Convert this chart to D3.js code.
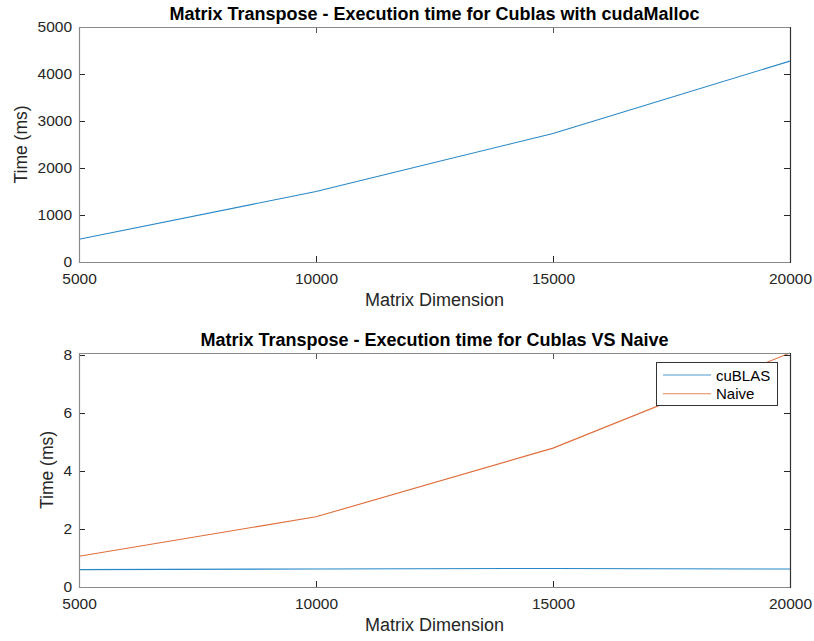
<!DOCTYPE html>
<html>
<head>
<meta charset="utf-8">
<script src="https://cdn.jsdelivr.net/npm/d3@7"></script>
<style>
  html, body { margin: 0; padding: 0; background: #fff; }
  svg { display: block; font-family: "Liberation Sans", Arial, Helvetica, sans-serif; }
</style>
</head>
<body>
<svg id="fig" width="814" height="641"></svg>
<script>
// Matrix sizes measured
const dims = [5000, 10000, 15000, 20000];

// Upper panel: cuBLAS with cudaMalloc (ms)
const cudaMallocTimes = [483, 1500, 2734, 4275];

// Lower panel: cuBLAS vs naive kernel (ms)
const cublasTimes = [0.60, 0.62, 0.64, 0.62];
const naiveTimes = [1.06, 2.42, 4.79, 8.07];

const xTicks = [5000, 10000, 15000, 20000];
const yTicksTop = [0, 1000, 2000, 3000, 4000, 5000];
const yTicksBottom = [0, 2, 4, 6, 8];

const titles = [
  "Matrix Transpose - Execution time for Cublas with cudaMalloc",
  "Matrix Transpose - Execution time for Cublas VS Naive"
];
const legendNames = ["cuBLAS", "Naive"];

const BLUE = "#0072BD", ORANGE = "#D95319";
const svg = d3.select("#fig");

function panel(opts) {
  const { top, bottom, left, right, yMax, yTicks, series, title, ylabelX, legend } = opts;
  const x = d3.scaleLinear().domain([5000, 20000]).range([left, right]);
  const y = d3.scaleLinear().domain([0, yMax]).range([bottom, top]);
  const g = svg.append("g");

  // clip lines to the axes box
  const clipId = "clip" + Math.round(top);
  svg.append("clipPath").attr("id", clipId)
    .append("rect").attr("x", left).attr("y", top - 1)
    .attr("width", right - left).attr("height", bottom - top + 1);

  // series
  const line = d3.line().x((d, i) => x(dims[i])).y(d => y(d));
  series.forEach(s => {
    g.append("path").datum(s.values)
      .attr("clip-path", `url(#${clipId})`)
      .attr("d", line).attr("fill", "none")
      .attr("stroke", s.color).attr("stroke-width", 1.1).attr("stroke-opacity", 0.85);
  });

  // axes through d3 axis generators (tick labels only; box drawn below)
  const fmt = d3.format("d");
  const xAxis = g.append("g").attr("transform", `translate(0,${bottom})`)
    .call(d3.axisBottom(x).tickValues(xTicks).tickFormat(fmt).tickSize(-6).tickPadding(11));
  const yAxis = g.append("g").attr("transform", `translate(${left},0)`)
    .call(d3.axisLeft(y).tickValues(yTicks).tickFormat(fmt).tickSize(-6).tickPadding(7));
  [xAxis, yAxis].forEach(a => {
    a.select(".domain").remove();
    a.selectAll(".tick line").attr("stroke", "#262626");
    a.selectAll(".tick text").attr("fill", "#262626")
      .style("font-size", "15.5px").style("font-family", "Liberation Sans, Arial, sans-serif");
  });
  xAxis.selectAll(".tick text").attr("dy", "0.71em");
  // mirrored ticks on top and right
  g.append("g").attr("transform", `translate(0,${top})`)
    .call(d3.axisTop(x).tickValues(xTicks).tickFormat("").tickSize(-6))
    .call(a => { a.select(".domain").remove(); a.selectAll(".tick line").attr("stroke", "#555"); });
  g.append("g").attr("transform", `translate(${right},0)`)
    .call(d3.axisRight(y).tickValues(yTicks).tickFormat("").tickSize(-6))
    .call(a => { a.select(".domain").remove(); a.selectAll(".tick line").attr("stroke", "#262626"); });

  // axes box
  g.append("path").attr("d", `M${right},${top + 0.5}H${left + 0.5}V${bottom + 0.5}H${right}`)
    .attr("fill", "none").attr("stroke", "#8a8a8a").attr("stroke-width", 1.2);
  g.append("line").attr("x1", right + 0.5).attr("x2", right + 0.5)
    .attr("y1", top).attr("y2", bottom + 1)
    .attr("stroke", "#333").attr("stroke-width", 1.2);

  // title
  g.append("text").attr("x", (left + right) / 2).attr("y", top - 13)
    .attr("text-anchor", "middle").attr("dominant-baseline", "central")
    .style("font-size", "18px").style("font-weight", "bold").attr("fill", "#000")
    .text(title);

  // axis labels
  g.append("text").attr("x", (left + right) / 2).attr("y", bottom + 38)
    .attr("text-anchor", "middle").attr("dominant-baseline", "central")
    .style("font-size", "18px").attr("fill", "#262626").text("Matrix Dimension");
  g.append("text")
    .attr("transform", `translate(${ylabelX},${(top + bottom) / 2}) rotate(-90)`)
    .attr("text-anchor", "middle").attr("dominant-baseline", "central")
    .style("font-size", "17.5px").attr("fill", "#262626").text("Time (ms)");

  if (legend) {
    const lg = g.append("g");
    lg.append("rect").attr("x", 656.5).attr("y", 362.5).attr("width", 121).attr("height", 43)
      .attr("fill", "#fff").attr("stroke", "#333").attr("stroke-width", 1);
    legend.forEach((s, i) => {
      const ly = 375 + i * 18.7;
      lg.append("line").attr("x1", 663).attr("x2", 711).attr("y1", ly).attr("y2", ly)
        .attr("stroke", s.color).attr("stroke-width", 1.1).attr("stroke-opacity", 0.7);
      lg.append("text").attr("x", 716).attr("y", ly).attr("dominant-baseline", "central")
        .style("font-size", "15px").attr("fill", "#000").text(s.name);
    });
  }
}

panel({
  top: 27, bottom: 262, left: 79, right: 790, yMax: 5000, yTicks: yTicksTop,
  series: [{ values: cudaMallocTimes, color: BLUE }],
  title: titles[0], ylabelX: 21
});

const lowerSeries = [
  { name: legendNames[0], values: cublasTimes, color: BLUE },
  { name: legendNames[1], values: naiveTimes, color: ORANGE }
];
panel({
  top: 353, bottom: 587, left: 79, right: 790, yMax: 8.07, yTicks: yTicksBottom,
  series: lowerSeries,
  title: titles[1], ylabelX: 47, legend: lowerSeries
});
</script>
</body>
</html>
